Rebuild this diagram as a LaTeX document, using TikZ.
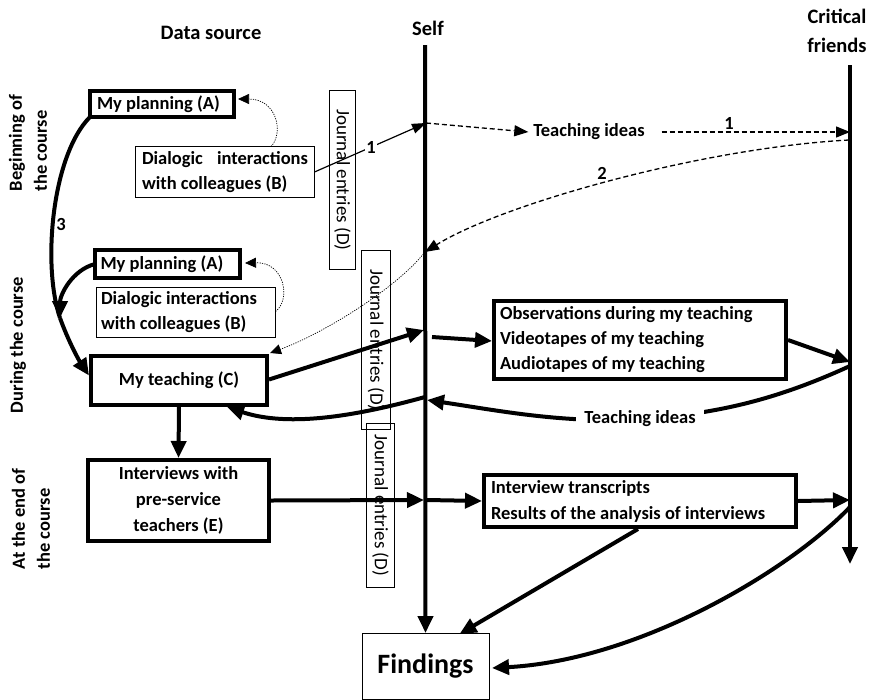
\documentclass[tikz,border=0pt]{standalone}
\usepackage{fontspec}
\setmainfont{Carlito}
\usetikzlibrary{arrows.meta,calc}
\begin{document}
\begin{tikzpicture}[x=1pt,y=-1pt,
  every node/.style={font=\fontsize{18.5}{25}\selectfont\bfseries, inner sep=0pt, outer sep=0pt},
  thickbox/.style={draw, line width=4pt},
  thinbox/.style={draw, line width=1pt},
  jbox/.style={draw, line width=1pt, rotate=-90, font=\fontsize{19}{23}\selectfont},
  headtxt/.style={font=\fontsize{20.5}{29}\selectfont\bfseries},
  bigtip/.style={-{Triangle[length=17pt,width=15pt]}},
  bigconn/.style={line width=4pt, bigtip},
  dashconn/.style={line width=1.3pt, dash pattern=on 5pt off 3pt, -{Triangle[length=14pt,width=11pt]}},
  dotconn/.style={line width=0.7pt, dash pattern=on 1.2pt off 1.2pt, -{Triangle[length=11pt,width=10pt]}},
  thinconn/.style={line width=1.2pt, -{Triangle[length=14pt,width=10pt]}}]
\useasboundingbox (0,0) rectangle (872,699);

% headers
\node[headtxt] (hds) at (211,33) {Data source};
\node[headtxt] (hself) at (428,28) {Self};
\node[headtxt, align=center] (hcf) at (837,31) {Critical\\friends};

% phase labels
\node[rotate=90, anchor=west, align=flush left] (ph1) at (28,191) {Beginning of\\the course};
\node[rotate=90] (ph2) at (18,345) {During the course};
\node[rotate=90, anchor=west, align=flush left] (ph3) at (31,569) {At the end of\\the course};

% boxes
\node[thickbox, minimum width=144pt, minimum height=26pt, text width=130pt, align=flush left] (A1) at (162,104) {My planning (A)};
\node[thinbox, minimum width=179pt, minimum height=51pt, text width=166pt, align=flush left] (B1) at (225,172) {\hbox to 166pt{Dialogic\hfill interactions}\\with colleagues (B)};
\node[thickbox, minimum width=145pt, minimum height=28pt, text width=134pt, align=flush left] (A2) at (167.5,264) {My planning (A)};
\node[thinbox, minimum width=179pt, minimum height=50pt, text width=170pt, align=flush left] (B2) at (186,312.5) {Dialogic interactions\\with colleagues (B)};
\node[thickbox, minimum width=176pt, minimum height=49pt] (C) at (179,380.5) {My teaching (C)};
\node[thickbox, minimum width=181pt, minimum height=81pt, align=center, font=\fontsize{18.5}{26}\selectfont\bfseries] (E) at (178.5,500.5) {Interviews with\\pre-service\\teachers (E)};
\node[thickbox, minimum width=292pt, minimum height=78pt, text width=280pt, align=flush left] (Obs) at (640,340) {Observations during my teaching\\Videotapes of my teaching\\Audiotapes of my teaching};
\node[thickbox, minimum width=312pt, minimum height=52pt, text width=298pt, align=flush left, font=\fontsize{18.5}{26}\selectfont\bfseries] (Tr) at (640,501) {Interview transcripts\\Results of the analysis of interviews};
\node[thinbox, minimum width=127pt, minimum height=66pt, font=\fontsize{28}{30}\selectfont\bfseries] (F) at (425.5,666) {Findings};

% journal boxes
\node[jbox, minimum width=179pt, minimum height=26pt] (J1) at (342.5,180) {Journal entries (D)};
\node[jbox, minimum width=179pt, minimum height=29pt] (J2) at (376,340) {Journal entries (D)};
\node[jbox, minimum width=164pt, minimum height=28pt] (J3) at (380.5,505.5) {Journal entries (D)};

% coordinates on the timelines
\coordinate (selftop) at (425,45);
\coordinate (crtop) at (850,65);
\coordinate (crbot) at (850,564);
\coordinate (s1) at (426,123);
\coordinate (s2) at (425,252);
\coordinate (s3) at (424,330);
\coordinate (s3b) at (432,337);
\coordinate (s4) at (427,400);
\coordinate (s4b) at (425,397);
\coordinate (s5) at (424,500);
\coordinate (s5b) at (427,500);
\coordinate (c1) at (850,132);
\coordinate (c2) at (849,140);
\coordinate (c3) at (850,362);
\coordinate (c4) at (850,366);
\coordinate (c5) at (850,500);
\coordinate (c6) at (850,507);
\coordinate (m) at (60,318);
\coordinate (ti2) at (640,419);

% timelines
\draw[bigconn] (selftop) -- (F.north);
\draw[bigconn] (crtop) -- (crbot);

% beginning of course
\draw[dotconn] ($(B1.north)+(46,0)$) .. controls (284,133) and (277,99) .. ($(A1.east)+(4,-5)$);
\draw[thinconn] (B1.east) -- (s1);
\node[fill=white, inner sep=1pt] (n1a) at (371,147) {1};
\node[inner xsep=5pt] (TI1) at (589,132) {Teaching ideas};
\draw[dashconn] (s1) -- (TI1.west);
\draw[dashconn] ($(TI1.east)+(12,0)$) -- (c1);
\node (n1b) at (729,123) {1};
\draw[dashconn] (c2) .. controls (700,148) and (500,205) .. (s2);
\node (n2) at (602,173) {2};

% 3 curve
\draw[line width=4pt] (A1.south west) .. controls (52,155) and (42,265) .. (m);
\draw[bigconn] (m) .. controls (69,343) and (80,362) .. ($(C.west)+(-2,-5)$);
\draw[bigconn] (A2.west) .. controls (72,270) and (60,295) .. (m);
\node (n3) at (61,224) {3};

% during the course
\draw[dotconn] ($(B2.east)+(0,-1)$) .. controls (291,300) and (285,262) .. ($(A2.east)+(5,-1)$);
\draw[dotconn] (s2) .. controls (395,290) and (320,335) .. ($(C.north east)+(3,-3)$);
\draw[bigconn] ($(C.east)+(2,-1)$) -- (s3);
\draw[bigconn] (s3b) -- ($(Obs.west)+(-2,1)$);
\draw[bigconn] ($(Obs.east)+(2,0)$) -- (c3);
\draw[bigconn] (c4) .. controls (780,398) and (720,414) .. (ti2) .. controls (565,424) and (495,410) .. (s4);
\node[fill=white, inner xsep=8pt, inner ysep=3pt] (TI2) at (ti2) {Teaching ideas};
\draw[bigconn] (s4b) .. controls (360,415) and (290,428) .. ($(C.south)+(48,2)$);
\draw[bigconn] (C.south) -- ($(E.north)+(0,-2)$);

% end of course
\draw[bigconn] ($(E.east)+(2,0)$) -- (s5);
\draw[bigconn] (s5b) -- ($(Tr.west)+(-2,0)$);
\draw[bigconn] ($(Tr.east)+(2,0)$) -- (c5);
\draw[bigconn] ($(Tr.south)+(-2,2)$) -- ($(F.north)+(34,1)$);
\draw[bigconn] (c6) .. controls (790,570) and (640,660) .. ($(F.east)+(3,2)$);
\end{tikzpicture}
\end{document}
